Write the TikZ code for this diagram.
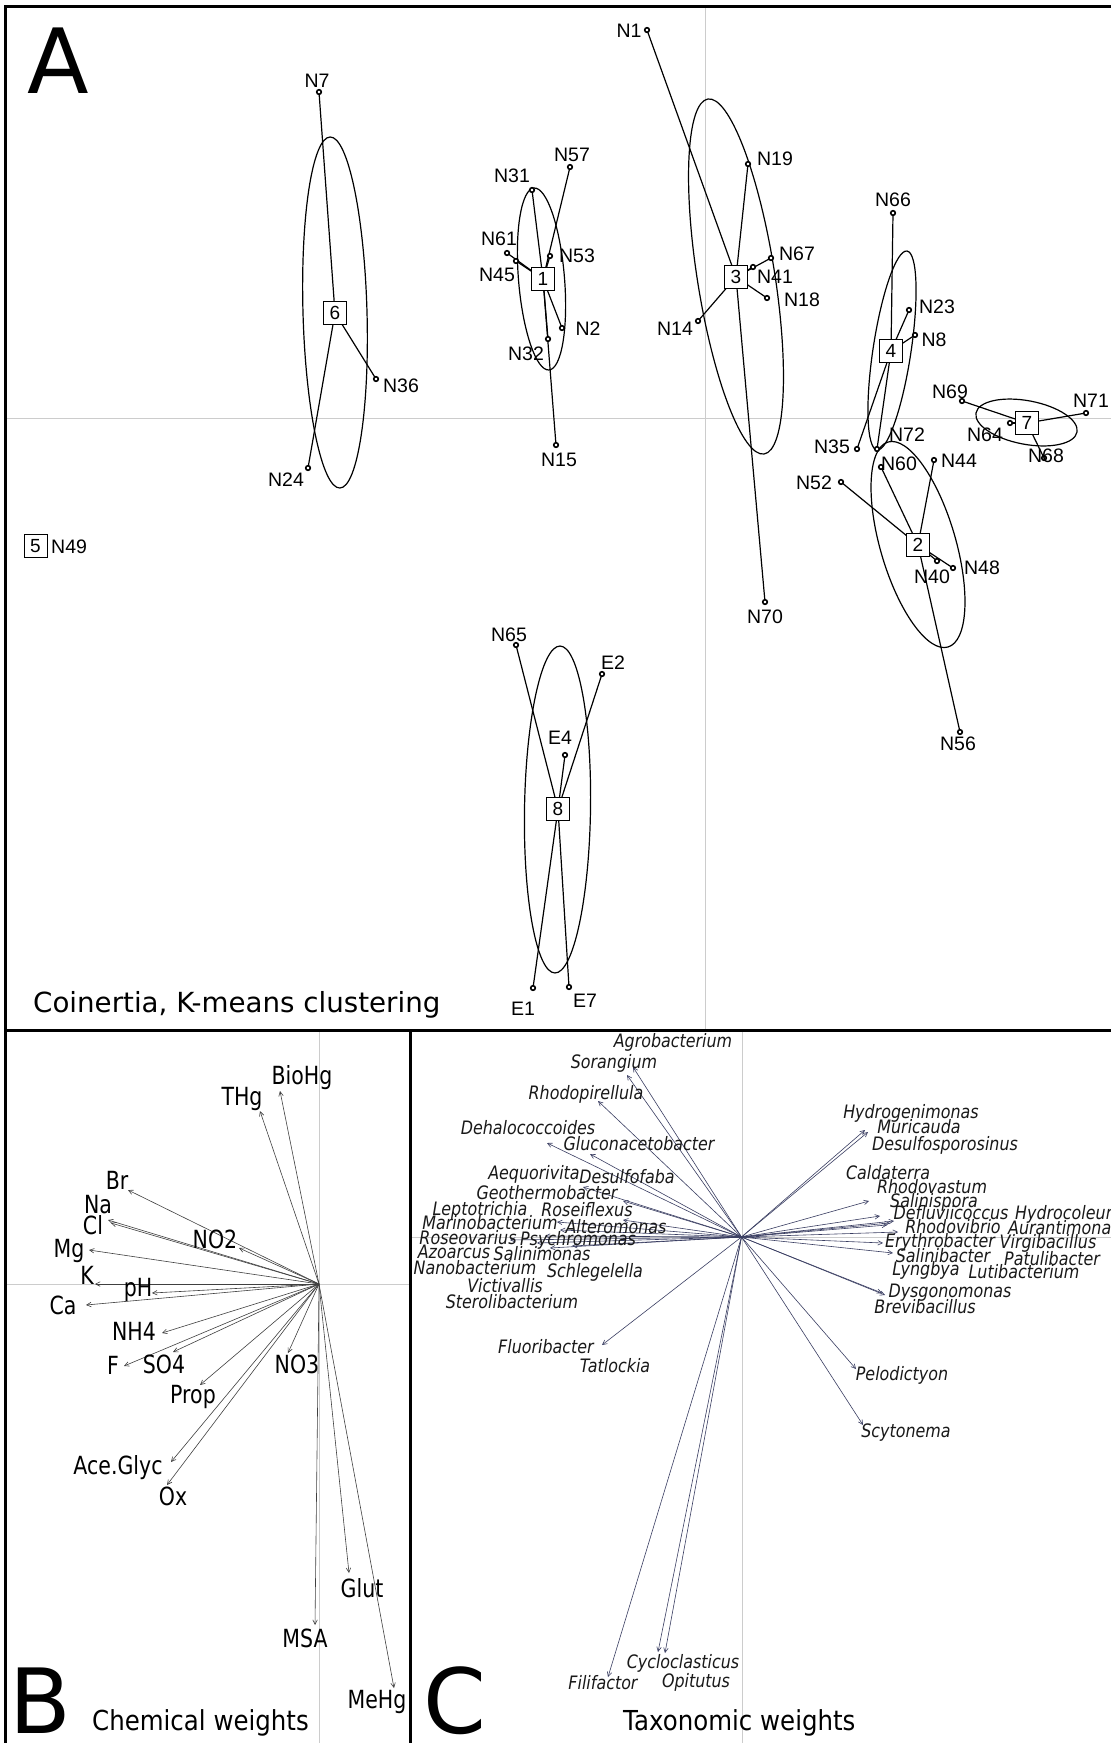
\documentclass[tikz,border=0pt]{standalone}
\usepackage{fontspec}
\setmainfont{Liberation Sans}
\newfontfamily\dv{DejaVu Sans}
\newfontfamily\dvb{DejaVu Sans}[FakeStretch=0.82]
\newfontfamily\dvt{DejaVu Sans}[FakeStretch=0.89]
\newfontfamily\dvi{DejaVu Sans}[FakeStretch=0.86]
\usetikzlibrary{arrows.meta}
\pgfdeclarelayer{back}
\pgfdeclarelayer{bg}
\pgfsetlayers{back,bg,main}
\definecolor{navy}{RGB}{58,62,98}
\tikzset{
 pt/.style={circle,draw,line width=1.6pt,fill=white,inner sep=0pt,minimum size=4.6pt},
 cbox/.style={draw,fill=white,line width=0.9pt,minimum size=23pt,inner sep=0pt,font=\fontsize{19}{19}\selectfont},
 lab/.style={inner sep=0pt,font=\fontsize{19.5}{20}\selectfont,text height=14pt,text depth=0pt},
 link/.style={line width=1.2pt},
 ell/.style={line width=1.2pt},
 axis/.style={draw=black!20,line width=1pt},
 frame/.style={line width=3pt},
 barr/.style={draw=black!75,line width=0.6pt,-{Straight Barb[length=4.5pt,width=4.5pt]}},
 carr/.style={draw=navy,line width=0.6pt,-{Straight Barb[length=4.5pt,width=4.5pt]}},
 blab/.style={inner sep=0pt,font=\dvb\fontsize{25}{25}\selectfont,text height=18pt,text depth=0pt},
 clab/.style={inner sep=0pt,font=\dvi\itshape\fontsize{18.5}{18.5}\selectfont,text height=13.5pt,text depth=0pt,text=black!90},
 big/.style={inner sep=0pt,font=\dv\fontsize{90}{90}\selectfont,anchor=base west},
 ttl/.style={inner sep=0pt,font=\dvt\fontsize{27.5}{28}\selectfont,anchor=base west},
}
\begin{document}
\begin{tikzpicture}[x=1pt,y=-1pt]
\begin{pgfonlayer}{back}
\fill[white] (0,0) rectangle (1111,1743);
\end{pgfonlayer}
\useasboundingbox (0,0) rectangle (1111,1743);

% ---------- panel A : points ----------
\node[cbox] (c1) at (543,279) {1};
\node[cbox] (c2) at (918,545) {2};
\node[cbox] (c3) at (736,277) {3};
\node[cbox] (c4) at (891,351) {4};
\node[cbox] (c5) at (35.5,546) {5};
\node[cbox] (c6) at (335,313) {6};
\node[cbox] (c7) at (1027,423) {7};
\node[cbox] (c8) at (558,809) {8};

\foreach \n/\x/\y in {N31/532/190,N57/570/167,N61/507/253,N45/516/261,N53/550/256,N2/562/328,N32/548/339,N15/556/445,
 N1/647/30,N19/748/164,N67/771/258,N41/753/267,N18/767/298,N14/698/321,N70/765/602,
 N7/319/92,N36/376/379,N24/308/468,
 N66/893/213,N23/909/310,N8/915/335,N35/857/449,N72/877/449,
 N60/881/467,N44/934/460,N52/841/482,N48/953/568,N40/937/561,N56/960/732,
 N69/962/401,N71/1086/413,N64/1010/423,N68/1044/458,
 N65/516/645,E2/602/674,E4/565/755,E1/533/988,E7/569/987}
 {\node[pt] (p\n) at (\x,\y) {};}

\foreach \n/\x/\y in {N1/629/30,N7/317/80,N57/572/154,N31/512/175,N19/775/158,N66/893/199,N61/499/238,N53/577/255,
 N67/797/253,N45/497/274,N41/775/276,N18/802/299,N23/937/306,N2/588/328,N14/675/328,N8/934/339,N32/526/353,
 N36/401/385,N69/950/391,N71/1091/400,N64/985/434,N72/907/434,N35/832/446,N68/1046/455,N15/559/459,N60/899/463,
 N44/959/460,N24/286/479,N52/814/482,N48/982/567,N40/932/576,N70/765/616,N65/509/634,E2/613/662,E4/560/737,
 N56/958/743,E7/585/1000,E1/523/1008}
 {\node[lab] (l\n) at (\x,\y) {\n};}
\node[lab,anchor=west] (lN49) at (51,546) {N49};

\node[big] (letA) at (27,93) {A};
\node[inner sep=0pt,font=\dv\fontsize{27.7}{28}\selectfont,anchor=base west] (ttlA) at (33,1012) {Coinertia, K-means clustering};

\begin{pgfonlayer}{bg}
 \draw[axis] (705,8) -- (705,1029);
 \draw[axis] (6,418) -- (1111,418);
 \draw[ell,rotate around={4.7:(541.5,279)}] (541.5,279) ellipse [x radius=23,y radius=91.3];
 \draw[ell,rotate around={9:(736,276.5)}] (736,276.5) ellipse [x radius=38.7,y radius=179.7];
 \draw[ell,rotate around={1.6:(335,312.5)}] (335,312.5) ellipse [x radius=32,y radius=175.6];
 \draw[ell,rotate around={-8.6:(892,350.5)}] (892,350.5) ellipse [x radius=19,y radius=100.6];
 \draw[ell,rotate around={16.3:(918,544.5)}] (918,544.5) ellipse [x radius=37.7,y radius=106.8];
 \draw[ell,rotate around={-0.9:(557.5,809.5)}] (557.5,809.5) ellipse [x radius=33,y radius=163.5];
 \draw[ell,rotate around={-10.7:(1026.5,422.5)}] (1026.5,422.5) ellipse [x radius=51.4,y radius=21.8];
 \foreach \n in {N31,N57,N61,N45,N53,N2,N32,N15} {\draw[link] (c1.center) -- (p\n.center);}
 \foreach \n in {N1,N19,N67,N41,N18,N14,N70} {\draw[link] (c3.center) -- (p\n.center);}
 \foreach \n in {N7,N36,N24} {\draw[link] (c6.center) -- (p\n.center);}
 \foreach \n in {N66,N23,N8,N35,N72} {\draw[link] (c4.center) -- (p\n.center);}
 \foreach \n in {N60,N44,N52,N48,N40,N56} {\draw[link] (c2.center) -- (p\n.center);}
 \foreach \n in {N69,N71,N64,N68} {\draw[link] (c7.center) -- (p\n.center);}
 \foreach \n in {N65,E2,E4,E1,E7} {\draw[link] (c8.center) -- (p\n.center);}
 % axes of B and C
 \draw[axis] (319,1031) -- (319,1743);
 \draw[axis] (6,1284) -- (410,1284);
 \draw[axis] (742,1031) -- (742,1743);
 \draw[axis] (411,1237) -- (1111,1237);
\end{pgfonlayer}

% ---------- frames ----------
\draw[frame] (5.5,1743) -- (5.5,6.5) -- (1111,6.5);
\draw[frame] (4,1030) -- (1111,1030);
\draw[line width=2.5pt] (410.5,1030) -- (410.5,1743);

% ---------- panel B ----------
\coordinate (ob) at (319,1284);
\foreach \nm/\txt/\tx/\ty/\lx/\ly in {
 bio/BioHg/280/1091/302/1075, thg/THg/260/1111/242/1096, br/Br/128/1190/117/1180,
 na/Na/108/1220/98/1204, cl/Cl/111/1223/93/1225, no2/NO2/239/1248/215/1239,
 mg/Mg/89/1250/69/1248, k/K/95/1284/87/1275, ph/pH/152/1293/138/1287,
 ca/Ca/86/1305/63/1305, nh4/NH4/162/1333/134/1331, f/F/124/1366/113/1365,
 so4/SO4/173/1352/164/1364, prop/Prop/200/1385/193/1394, no3/NO3/288/1353/297/1364,
 ace/Ace.Glyc/171/1462/118/1465, ox/Ox/167/1485/173/1496, glut/Glut/349/1573/362/1588,
 msa/MSA/315/1625/305/1638, mehg/MeHg/394/1688/377/1699}
 {\coordinate (bt\nm) at (\tx,\ty);
  \node[blab] (bl\nm) at (\lx,\ly) {\txt};
  \draw[barr] (ob) -- (bt\nm);}
\node[big] (letB) at (9,1733) {B};
\node[ttl] (ttlB) at (92,1730) {Chemical weights};

% ---------- panel C ----------
\coordinate (oc) at (741.5,1237);
\foreach \i/\tx/\ty in {1/633/1067,2/627/1075,3/598/1101,4/547/1143,5/590/1154,6/583/1187,7/623/1201,
 8/623/1220,9/557/1222,10/560/1230,11/510/1240,12/537/1243,13/550/1248,14/572/1246,15/545/1236,
 16/602/1345,17/608/1677,18/658/1652,19/665/1653,20/868/1132,21/865/1130,22/869/1201,23/880/1216,
 24/887/1225,25/890/1223,26/894/1221,27/898/1232,28/883/1243,29/893/1253,30/885/1295,31/882/1293,
 32/856/1369,33/863/1425}
 {\coordinate (ct\i) at (\tx,\ty);
  \draw[carr] (oc) -- (ct\i);}

\foreach \nm/\x/\y in {Agrobacterium/673/1041,Sorangium/614/1062,Rhodopirellula/586/1093,Dehalococcoides/528/1128,
 Gluconacetobacter/639/1144,Aequorivita/534/1173,Desulfofaba/627/1177,Geothermobacter/547/1193,
 Leptotrichia/480/1209,Roseiflexus/587/1210,Marinobacterium/490/1223,Alteromonas/616/1227,
 Roseovarius/468/1238,Psychromonas/578/1239,Azoarcus/454/1252,Salinimonas/542/1254,
 Nanobacterium/475/1268,Schlegelella/595/1271,Victivallis/505/1286,Sterolibacterium/512/1302,
 Fluoribacter/546/1347,Tatlockia/615/1366,
 Hydrogenimonas/911/1112,Muricauda/919/1127,Desulfosporosinus/945/1144,Caldaterra/888/1173,
 Rhodovastum/932/1187,Salinispora/934/1201,Defluviicoccus/951/1213,Rhodovibrio/953/1227,
 Erythrobacter/940/1241,Virgibacillus/1048/1242,Salinibacter/943/1256,Patulibacter/1052/1259,
 Lyngbya/926/1269,Lutibacterium/1024/1272,Dysgonomonas/950/1291,Brevibacillus/925/1307,
 Pelodictyon/902/1374,Scytonema/906/1431,
 Filifactor/603/1683,Cycloclasticus/683/1662,Opitutus/696/1681}
 {\node[clab] (cl\nm) at (\x,\y) {\nm};}
\node[clab,anchor=west] (clHydrocoleum) at (1015,1213) {Hydrocoleum};
\node[clab,anchor=west] (clAurantimonas) at (1008,1228) {Aurantimonas};

\node[big] (letC) at (423,1733) {C};
\node[ttl] (ttlC) at (623,1730) {Taxonomic weights};
\end{tikzpicture}
\end{document}
